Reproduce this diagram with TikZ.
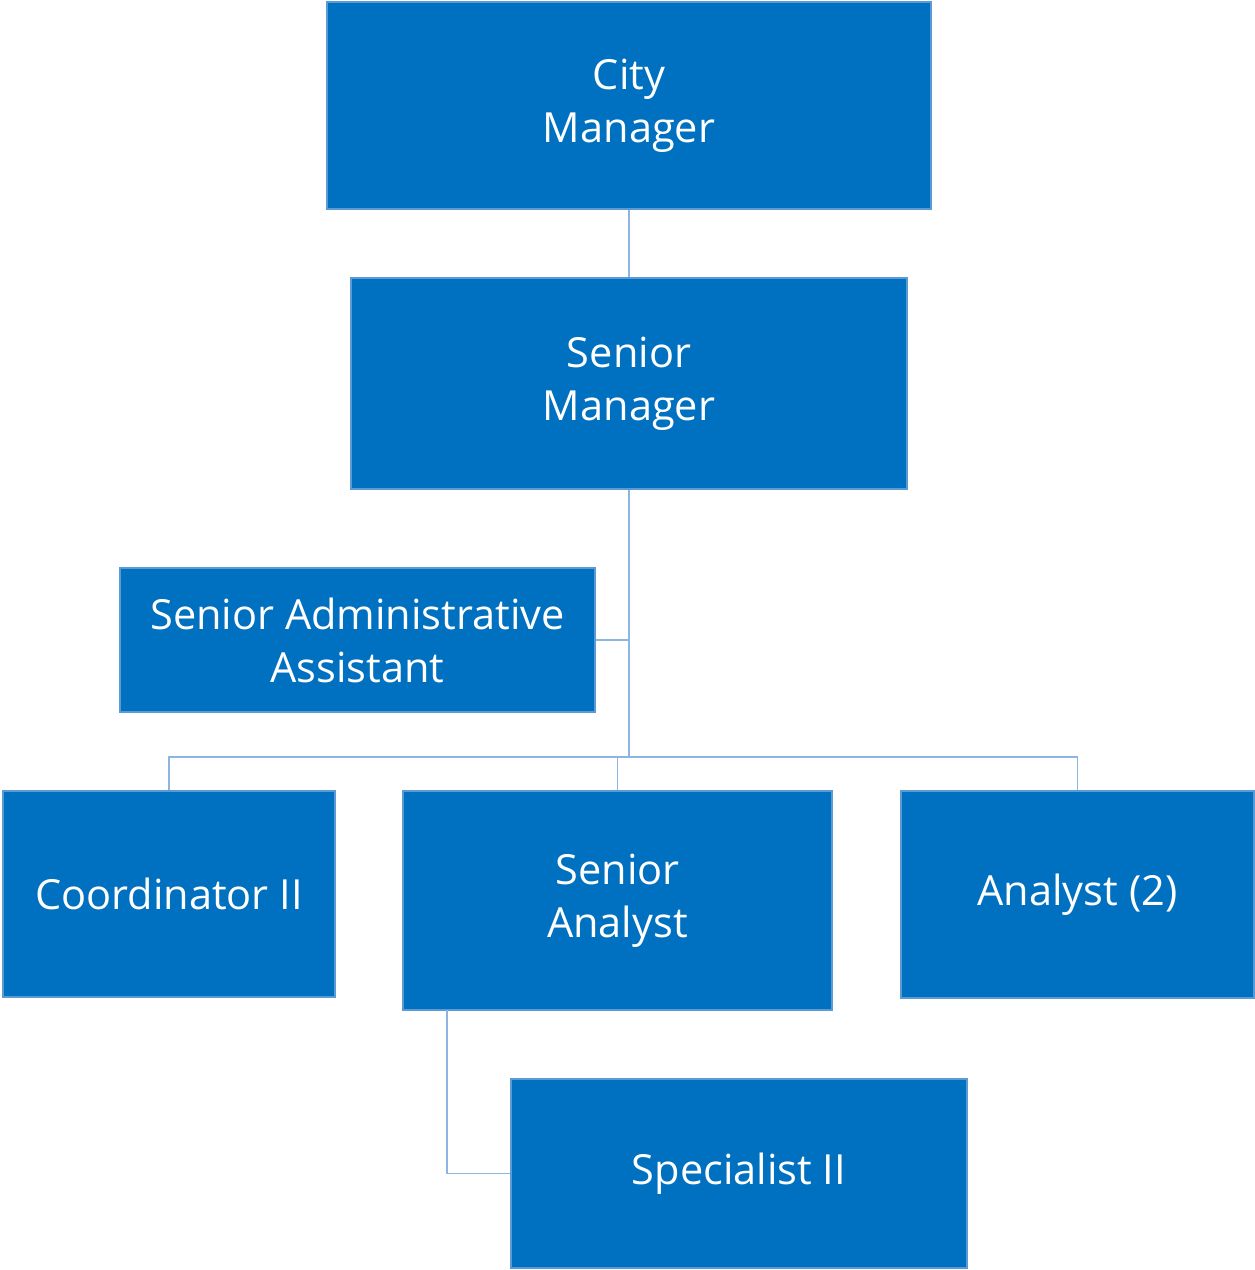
\documentclass[tikz,border=0pt]{standalone}
\usepackage{fontspec}
\setmainfont{Open Sans}
\definecolor{boxfill}{HTML}{0070C0}
\definecolor{boxline}{HTML}{5B9BD5}
\definecolor{conn}{HTML}{8DB4E2}
\begin{document}
\begin{tikzpicture}[x=1pt,y=1pt,
  box/.style={draw=boxline, line width=2pt, fill=boxfill, text=white, inner sep=0pt,
    align=center, font=\fontsize{41.5}{53}\selectfont},
  link/.style={draw=conn, line width=1.6pt}]
\useasboundingbox (0,0) rectangle (1255,-1270);
\node[box, minimum width=604, minimum height=207] (city) at (629,-105.5) {City\\Manager};
\node[box, minimum width=556, minimum height=211] (sm) at (629,-383.5) {Senior\\Manager};
\node[box, minimum width=475, minimum height=144] (saa) at (357.5,-640) {Senior Administrative\\Assistant};
\node[box, minimum width=332, minimum height=206] (coord) at (169,-894) {Coordinator II};
\node[box, minimum width=429, minimum height=219] (sa) at (617.5,-900.5) {Senior\\Analyst};
\node[box, minimum width=353, minimum height=207] (an) at (1077.5,-894.5) {Analyst (2)};
\node[box, minimum width=456, minimum height=189] (spec) at (739,-1173.5) {Specialist II};
\coordinate (bus) at (629,-757);
\coordinate (sak) at (447,-1010);
\draw[link] (city.south) -- (sm.north);
\draw[link] (sm.south) -- (bus);
\draw[link] (saa.east) -- (saa.east -| sm.south);
\draw[link] (coord.north) |- (bus) -| (an.north);
\draw[link] (sa.north) -- (sa.north |- bus);
\draw[link] (sak) |- (spec.west);
\end{tikzpicture}
\end{document}
